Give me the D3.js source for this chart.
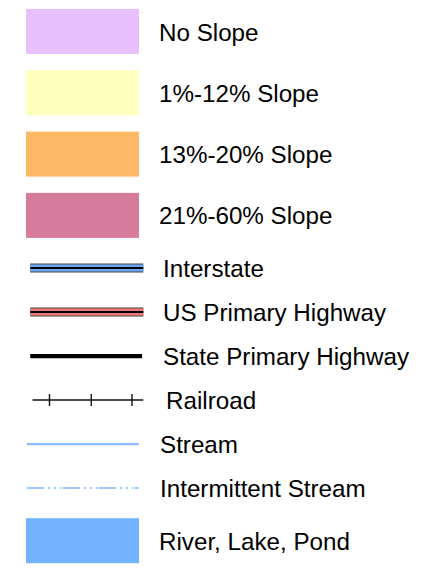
<!DOCTYPE html>
<html>
<head>
<meta charset="utf-8">
<script src="https://cdn.jsdelivr.net/npm/d3@7"></script>
<style>
  body { margin: 0; background: #fff; }
  text { font-family: "Liberation Sans", Arial, sans-serif; fill: #000; }
</style>
</head>
<body>
<div id="legend"></div>
<script>
// legend entries, top to bottom
const labels = ['No Slope', '1%-12% Slope', '13%-20% Slope', '21%-60% Slope',
  'Interstate', 'US Primary Highway', 'State Primary Highway', 'Railroad',
  'Stream', 'Intermittent Stream', 'River, Lake, Pond'];
const kinds = ['fill', 'fill', 'fill', 'fill',
  'interstate', 'usHighway', 'stateHighway', 'railroad',
  'stream', 'intermittent', 'fill'];
const colors = ['#e8bfff', '#ffffbe', '#ffb866', '#d67b9b',
  '#6aa6f4', '#f27878', '#000000', '#000000',
  '#8cbcff', '#9fc8ff', '#73b2ff'];
const railTicks = [0.19, 0.56, 0.92];

const width = 448, height = 570;
const rowH = { fill: 61.3, line: 44 };
const symX0 = 28, symX1 = 141;

let svg = d3.select('#legend')
  .append('svg')
  .attr('width', width)
  .attr('height', height);

// cumulative row layout
let rows = [], rowTop = 0.85;
labels.forEach((label, i) => {
  let h = kinds[i] === 'fill' ? rowH.fill : rowH.line;
  rows.push({ label: label, kind: kinds[i], color: colors[i], cy: rowTop + h / 2 });
  rowTop += h;
});

let x = d3.scaleLinear().domain([0, 1]).range([symX0, symX1]);
let line = d3.line().x(d => x(d)).y(0);

let g = svg.selectAll('g.row')
  .data(rows)
  .enter().append('g')
  .attr('class', 'row')
  .attr('transform', d => `translate(0,${d.cy})`);

g.each(function(d) {
  let sel = d3.select(this);
  if (d.kind === 'fill') {
    sel.append('rect')
      .attr('x', 26).attr('y', -22.5)
      .attr('width', 113).attr('height', 45)
      .attr('fill', d.color);
  } else if (d.kind === 'interstate' || d.kind === 'usHighway') {
    let xs = [0.02, 1.02];
    sel.append('path').attr('d', line(xs)).attr('stroke', '#444').attr('stroke-width', 9);
    sel.append('path').attr('d', line(xs)).attr('stroke', d.color).attr('stroke-width', 7);
    sel.append('path').attr('d', line(xs)).attr('stroke', '#000').attr('stroke-width', 2);
  } else if (d.kind === 'stateHighway') {
    sel.append('path').attr('d', line([0.02, 1.01])).attr('stroke', '#000').attr('stroke-width', 4.2);
  } else if (d.kind === 'railroad') {
    sel.append('path').attr('d', line([0.04, 1.02])).attr('stroke', '#111').attr('stroke-width', 1.6);
    sel.selectAll('line.tick')
      .data(railTicks)
      .enter().append('line')
      .attr('x1', t => x(t)).attr('x2', t => x(t))
      .attr('y1', -6).attr('y2', 6)
      .attr('stroke', '#111').attr('stroke-width', 1.4);
  } else if (d.kind === 'stream') {
    sel.append('path').attr('d', line([-0.01, 0.98])).attr('stroke', d.color).attr('stroke-width', 2.2);
  } else if (d.kind === 'intermittent') {
    sel.append('path').attr('d', line([-0.01, 0.98])).attr('stroke', d.color).attr('stroke-width', 2)
      .attr('stroke-dasharray', '17,4,2,4,2,4,2,1');
  }
});

const labelX = { fill: 159, interstate: 163, usHighway: 163, stateHighway: 163,
  railroad: 166, stream: 160, intermittent: 160 };

g.append('text')
  .attr('x', d => labelX[d.kind])
  .attr('y', 9)
  .attr('font-size', 24.2)
  .text(d => d.label);
</script>
</body>
</html>
